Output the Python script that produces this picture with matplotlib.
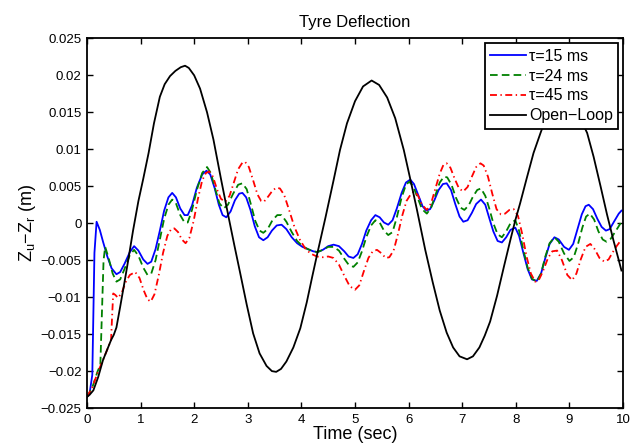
import matplotlib
matplotlib.use('Agg')
import matplotlib.pyplot as plt
from matplotlib.ticker import FuncFormatter

plt.rcParams['font.family'] = ['Liberation Sans', 'DejaVu Sans']
plt.rcParams['mathtext.fontset'] = 'custom'
plt.rcParams['mathtext.rm'] = 'Liberation Sans'
plt.rcParams['mathtext.it'] = 'Liberation Sans'
plt.rcParams['mathtext.default'] = 'regular'
plt.rcParams['lines.scale_dashes'] = False

# tau = 15 ms
t_15 = [0, 0.05, 0.1, 0.14, 0.18, 0.24, 0.3, 0.38, 0.46, 0.55, 0.62, 0.7, 0.8, 0.88, 0.96,
        1.05, 1.13, 1.2, 1.28, 1.36, 1.44, 1.52, 1.59, 1.66, 1.74, 1.82, 1.88, 1.96, 2.05,
        2.15, 2.23, 2.3, 2.38, 2.46, 2.53, 2.6, 2.68, 2.76, 2.84, 2.9, 2.97, 3.05, 3.13,
        3.21, 3.29, 3.37, 3.45, 3.54, 3.63, 3.72, 3.82, 3.92, 4.02, 4.12, 4.22, 4.3, 4.4,
        4.5, 4.6, 4.7, 4.8, 4.88, 4.97, 5.05, 5.13, 5.21, 5.3, 5.38, 5.46, 5.54, 5.62, 5.7,
        5.78, 5.87, 5.95, 6.03, 6.1, 6.18, 6.26, 6.33, 6.4, 6.48, 6.56, 6.64, 6.71, 6.79,
        6.87, 6.95, 7.02, 7.1, 7.18, 7.26, 7.35, 7.43, 7.5, 7.58, 7.66, 7.74, 7.82, 7.9,
        7.99, 8.06, 8.14, 8.22, 8.3, 8.39, 8.47, 8.55, 8.63, 8.72, 8.8, 8.9, 8.99, 9.07,
        9.15, 9.23, 9.3, 9.36, 9.44, 9.52, 9.6, 9.68, 9.75, 9.83, 9.92, 9.97]
z_15 = [-0.0235, -0.023, -0.0205, -0.004, 0.0002, -0.0009, -0.0025, -0.0045, -0.0061,
        -0.0069, -0.0066, -0.0055, -0.0039, -0.0031, -0.0037, -0.0049, -0.0055, -0.0052,
        -0.0035, -0.001, 0.0017, 0.0035, 0.0041, 0.0035, 0.002, 0.0011, 0.0011, 0.0024,
        0.0048, 0.0066, 0.0071, 0.0066, 0.0048, 0.0025, 0.0011, 0.0008, 0.0016, 0.0031,
        0.004, 0.0041, 0.0035, 0.0018, -0.0004, -0.0019, -0.0023, -0.0019, -0.001, -0.0003,
        -0.0002, -0.0008, -0.0019, -0.0027, -0.0032, -0.0035, -0.0038, -0.0039, -0.0036,
        -0.0031, -0.0029, -0.0031, -0.0038, -0.0045, -0.0047, -0.0042, -0.0028, -0.001,
        0.0004, 0.0011, 0.0008, 0.0001, -0.0002, 0.0004, 0.002, 0.0041, 0.0055, 0.0059,
        0.0053, 0.0038, 0.0023, 0.0017, 0.0019, 0.0031, 0.0045, 0.0053, 0.0054, 0.0045,
        0.0026, 0.0009, 0.0002, 0.0004, 0.0014, 0.0026, 0.0032, 0.0025, 0.0008, -0.0011,
        -0.0024, -0.0026, -0.0019, -0.0009, -0.0006, -0.0017, -0.004, -0.0062, -0.0076,
        -0.0078, -0.0068, -0.0047, -0.0028, -0.0019, -0.0022, -0.0032, -0.0036, -0.0028,
        -0.0008, 0.0012, 0.0023, 0.0025, 0.0019, 0.0006, -0.0005, -0.001, -0.0008, 0.0002,
        0.0013, 0.0017]

# tau = 24 ms
t_24 = [0, 0.1, 0.2, 0.25, 0.28, 0.31, 0.34, 0.4, 0.48, 0.55, 0.62, 0.7, 0.8, 0.88, 0.96,
        1.05, 1.13, 1.2, 1.28, 1.36, 1.44, 1.52, 1.59, 1.66, 1.74, 1.82, 1.88, 1.96, 2.05,
        2.15, 2.24, 2.31, 2.39, 2.47, 2.55, 2.63, 2.72, 2.82, 2.9, 2.98, 3.06, 3.14, 3.22,
        3.29, 3.37, 3.46, 3.55, 3.63, 3.72, 3.82, 3.92, 4.02, 4.12, 4.22, 4.3, 4.4, 4.5,
        4.6, 4.7, 4.8, 4.88, 4.97, 5.05, 5.13, 5.21, 5.3, 5.38, 5.46, 5.54, 5.62, 5.7, 5.78,
        5.87, 5.95, 6.01, 6.08, 6.16, 6.25, 6.34, 6.42, 6.5, 6.58, 6.66, 6.72, 6.8, 6.88,
        6.97, 7.04, 7.12, 7.2, 7.28, 7.35, 7.43, 7.5, 7.58, 7.66, 7.74, 7.82, 7.9, 7.99,
        8.06, 8.14, 8.22, 8.3, 8.39, 8.47, 8.55, 8.63, 8.72, 8.8, 8.9, 9.0, 9.08, 9.16,
        9.24, 9.31, 9.38, 9.46, 9.54, 9.62, 9.69, 9.77, 9.85, 9.92, 9.97]
z_24 = [-0.0235, -0.0222, -0.02, -0.0192, -0.012, -0.005, -0.0032, -0.0046, -0.0068,
        -0.0079, -0.0076, -0.0062, -0.0043, -0.0036, -0.0044, -0.006, -0.007, -0.0068,
        -0.005, -0.0022, 0.0006, 0.0025, 0.0032, 0.0027, 0.0011, 0.0001, 0.0001, 0.0018,
        0.0045, 0.0068, 0.0076, 0.0068, 0.0047, 0.0027, 0.002, 0.0025, 0.0039, 0.0052,
        0.0054, 0.0046, 0.0025, 0.0003, -0.001, -0.0013, -0.0008, 0.0004, 0.0011, 0.0011,
        0.0002, -0.0012, -0.0024, -0.0031, -0.0035, -0.0038, -0.0039, -0.0036, -0.0032,
        -0.0032, -0.0037, -0.0048, -0.0056, -0.0059, -0.0053, -0.0038, -0.0019, -0.0003,
        0.0004, 0.0001, -0.001, -0.0016, -0.0012, 0.0008, 0.0035, 0.0052, 0.0056, 0.0051,
        0.0036, 0.0019, 0.0013, 0.0021, 0.0038, 0.0055, 0.0063, 0.0062, 0.0052, 0.0035,
        0.0021, 0.0018, 0.0024, 0.0036, 0.0045, 0.0047, 0.0037, 0.0021, 0.0, -0.0015,
        -0.0019, -0.0011, 0.0, 0.0004, -0.001, -0.0036, -0.006, -0.0075, -0.0079, -0.0068,
        -0.0045, -0.0027, -0.0019, -0.0025, -0.0041, -0.0051, -0.0046, -0.0028, -0.0006,
        0.0009, 0.0013, 0.0005, -0.0011, -0.0022, -0.0025, -0.0021, -0.0012, -0.0004,
        0.0002]

# tau = 45 ms
t_45 = [0, 0.1, 0.2, 0.3, 0.4, 0.45, 0.47, 0.49, 0.53, 0.58, 0.65, 0.72, 0.8, 0.9, 0.98,
        1.06, 1.13, 1.19, 1.26, 1.34, 1.42, 1.5, 1.57, 1.63, 1.7, 1.77, 1.84, 1.91, 1.99,
        2.07, 2.15, 2.22, 2.28, 2.35, 2.43, 2.5, 2.58, 2.66, 2.74, 2.82, 2.9, 2.95, 3.02,
        3.1, 3.18, 3.25, 3.3, 3.38, 3.46, 3.53, 3.6, 3.68, 3.77, 3.87, 3.97, 4.07, 4.17,
        4.29, 4.4, 4.5, 4.6, 4.7, 4.8, 4.9, 5.0, 5.08, 5.16, 5.25, 5.33, 5.41, 5.5, 5.57,
        5.64, 5.72, 5.8, 5.88, 5.96, 6.03, 6.1, 6.17, 6.25, 6.34, 6.42, 6.5, 6.58, 6.65,
        6.71, 6.78, 6.86, 6.94, 7.02, 7.1, 7.18, 7.26, 7.34, 7.4, 7.48, 7.56, 7.64, 7.72,
        7.8, 7.88, 7.96, 8.04, 8.12, 8.2, 8.28, 8.36, 8.42, 8.5, 8.6, 8.68, 8.77, 8.86,
        8.96, 9.05, 9.13, 9.21, 9.3, 9.39, 9.47, 9.56, 9.65, 9.73, 9.8, 9.88, 9.97]
z_45 = [-0.0235, -0.0222, -0.0202, -0.0185, -0.0167, -0.0158, -0.0125, -0.0095, -0.0097,
        -0.0101, -0.0094, -0.008, -0.007, -0.0066, -0.0074, -0.0091, -0.0103, -0.0106,
        -0.0096, -0.007, -0.004, -0.0017, -0.0008, -0.0007, -0.0012, -0.0022, -0.0027,
        -0.002, 0.0003, 0.0033, 0.0058, 0.0068, 0.007, 0.0063, 0.0045, 0.0033, 0.0029,
        0.0037, 0.0055, 0.0073, 0.0082, 0.0083, 0.0076, 0.0058, 0.0039, 0.003, 0.0029,
        0.0036, 0.0044, 0.0048, 0.0047, 0.0038, 0.0018, -0.0005, -0.0022, -0.0034, -0.0041,
        -0.0045, -0.0046, -0.0045, -0.0047, -0.0056, -0.0071, -0.0085, -0.009, -0.0084,
        -0.0066, -0.0047, -0.0038, -0.0036, -0.0041, -0.0047, -0.0046, -0.0037, -0.0015,
        0.001, 0.003, 0.0038, 0.0043, 0.0038, 0.0025, 0.0018, 0.0027, 0.0047, 0.0067,
        0.0079, 0.0081, 0.0075, 0.006, 0.0047, 0.0043, 0.0049, 0.0063, 0.0076, 0.0081,
        0.0078, 0.0063, 0.004, 0.0019, 0.0012, 0.0013, 0.0018, 0.0019, 0.001, -0.0015,
        -0.0045, -0.0068, -0.0079, -0.0078, -0.0066, -0.0047, -0.0038, -0.0037, -0.005,
        -0.007, -0.0077, -0.0068, -0.0049, -0.0032, -0.0028, -0.0035, -0.0047, -0.0052,
        -0.0049, -0.004, -0.0031, -0.0022]

# open loop
t_ol = [0, 0.05, 0.12, 0.21, 0.3, 0.4, 0.45, 0.5, 0.55, 0.62, 0.7, 0.77, 0.86, 0.96, 1.05,
        1.15, 1.25, 1.36, 1.45, 1.55, 1.65, 1.75, 1.83, 1.9, 2.0, 2.11, 2.24, 2.36, 2.5,
        2.64, 2.75, 2.86, 2.98, 3.1, 3.22, 3.35, 3.45, 3.53, 3.62, 3.72, 3.85, 3.98, 4.1,
        4.2, 4.3, 4.45, 4.6, 4.72, 4.85, 5.0, 5.15, 5.31, 5.45, 5.6, 5.75, 5.91, 6.03,
        6.15, 6.31, 6.45, 6.58, 6.71, 6.83, 6.95, 7.09, 7.2, 7.32, 7.42, 7.52, 7.65, 7.78,
        7.9, 7.99, 8.08, 8.2, 8.33, 8.46, 8.6, 8.75, 8.88, 9.0, 9.15, 9.33, 9.45, 9.58,
        9.7, 9.82, 9.92, 9.97]
z_ol = [-0.0235, -0.0232, -0.0226, -0.0208, -0.0185, -0.0167, -0.0158, -0.0151, -0.0141,
        -0.0113, -0.008, -0.005, -0.001, 0.003, 0.006, 0.0095, 0.0135, 0.0171, 0.0188,
        0.0199, 0.0206, 0.0211, 0.0213, 0.021, 0.02, 0.0182, 0.015, 0.0113, 0.006, 0.0009,
        -0.003, -0.0068, -0.011, -0.0149, -0.0176, -0.0193, -0.02, -0.0201, -0.0197,
        -0.0187, -0.0168, -0.0142, -0.0107, -0.0073, -0.004, 0.0008, 0.0058, 0.0099, 0.0135,
        0.0165, 0.0185, 0.0193, 0.0187, 0.017, 0.0142, 0.0099, 0.006, 0.002, -0.0036,
        -0.008, -0.0118, -0.0148, -0.0168, -0.018, -0.0184, -0.018, -0.0168, -0.0152,
        -0.0133, -0.0098, -0.0058, -0.0022, 0.0004, 0.0027, 0.006, 0.0095, 0.0122, 0.015,
        0.0168, 0.0173, 0.0168, 0.015, 0.0122, 0.009, 0.005, 0.0012, -0.0023, -0.005,
        -0.0064]

labels = ['\u03c4=15 ms', '\u03c4=24 ms', '\u03c4=45 ms', 'Open\u2212Loop']

fig = plt.figure(figsize=(6.3, 4.46), dpi=100)
ax = fig.add_axes([0.138, 0.085, 0.851, 0.829])

lw = 1.3
ax.plot(t_15, z_15, color='#0000ff', lw=lw, label=labels[0])
ax.plot(t_24, z_24, color='#008000', lw=lw, dashes=(5.5, 3), label=labels[1])
ax.plot(t_45, z_45, color='#ff0000', lw=lw, dashes=(5, 2.5, 1, 2.5), label=labels[2])
ax.plot(t_ol, z_ol, color='black', lw=lw, label=labels[3])

ax.set_xlim(0, 10)
ax.set_ylim(-0.025, 0.025)
ax.set_xticks(range(0, 11))
ax.set_yticks([-0.025, -0.02, -0.015, -0.01, -0.005, 0, 0.005, 0.01, 0.015, 0.02, 0.025])
ax.yaxis.set_major_formatter(FuncFormatter(lambda v, p: f'{round(v, 3):g}'.replace('-', '\u2212')))
ax.tick_params(direction='in', length=4, width=1, top=True, right=True, labelsize=9.5,
               colors='black', pad=4)
for s in ax.spines.values():
    s.set_linewidth(1.3)

ax.set_title('Tyre Deflection', fontsize=12, pad=8)
ax.set_xlabel('Time (sec)', fontsize=13, labelpad=0)
ax.set_ylabel('Z$_u$\u2212Z$_r$ (m)', fontsize=13, labelpad=2)

leg = ax.legend(loc='upper right', fontsize=11.5, frameon=True, fancybox=False,
                edgecolor='black', framealpha=1, borderaxespad=0.3, handlelength=2.2,
                handletextpad=0.2, labelspacing=0.3, borderpad=0.35)
leg.get_frame().set_linewidth(1.3)

fig.savefig('out.png', dpi=100)
